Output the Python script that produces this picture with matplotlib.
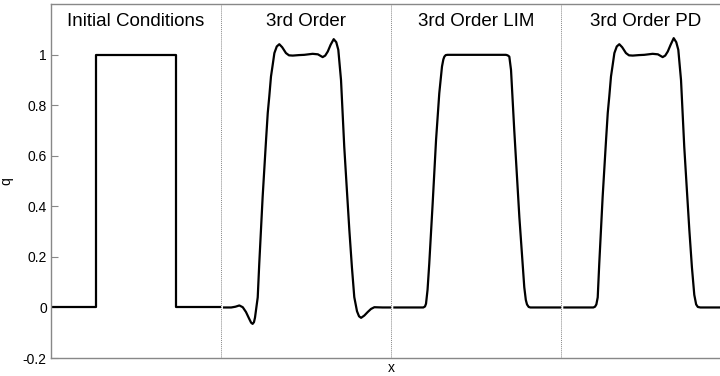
import matplotlib
matplotlib.use('Agg')
import matplotlib.pyplot as plt

plt.rcParams['font.family'] = ['Liberation Sans', 'DejaVu Sans']
plt.rcParams['axes.unicode_minus'] = False

# panel titles
titles = ['Initial Conditions', '3rd Order', '3rd Order LIM', '3rd Order PD']

# x positions inside each panel (0..1) and q values
init_x = [0.014, 0.265, 0.265, 0.735, 0.735, 0.995]
init_q = [0.0, 0.0, 1.0, 1.0, 0.0, 0.0]

o3_x = [0.018, 0.06, 0.085, 0.108, 0.128, 0.147, 0.166, 0.177, 0.186, 0.194,
        0.200, 0.208, 0.216, 0.225, 0.245, 0.265, 0.275, 0.284, 0.294, 0.304,
        0.314, 0.328, 0.343, 0.36, 0.382, 0.40, 0.422, 0.46, 0.49, 0.539,
        0.57, 0.598, 0.613, 0.628, 0.645, 0.663, 0.678, 0.69, 0.706, 0.725,
        0.74, 0.755, 0.77, 0.784, 0.80, 0.812, 0.824, 0.843, 0.863, 0.882,
        0.902, 0.95, 0.995]
o3_q = [0.0, 0.0, 0.003, 0.008, 0.001, -0.018, -0.045, -0.060, -0.065, -0.058,
        -0.040, 0.0, 0.04, 0.173, 0.438, 0.663, 0.77, 0.835, 0.914, 0.96,
        1.007, 1.033, 1.042, 1.03, 1.007, 0.998, 0.997, 0.999, 1.0, 1.004,
        1.002, 0.991, 0.997, 1.013, 1.04, 1.062, 1.05, 1.02, 0.90, 0.636,
        0.47, 0.306, 0.16, 0.041, -0.015, -0.035, -0.041, -0.032, -0.018, -0.006,
        0.001, 0.0, 0.0]

lim_x = [0.02, 0.19, 0.2, 0.206, 0.215, 0.225, 0.245, 0.265, 0.284, 0.3,
         0.308, 0.314, 0.322, 0.333, 0.676, 0.686, 0.696, 0.706, 0.725, 0.755,
         0.784, 0.793, 0.8, 0.81, 0.82, 0.995]
lim_q = [0.0, 0.0, 0.004, 0.015, 0.07, 0.173, 0.411, 0.663, 0.848, 0.954,
         0.982, 0.993, 0.999, 1.0, 1.0, 0.998, 0.993, 0.94, 0.702, 0.358,
         0.08, 0.03, 0.012, 0.002, 0.0, 0.0]

pd_x = [0.02, 0.19, 0.2, 0.208, 0.216, 0.225, 0.245, 0.265, 0.275, 0.284,
        0.294, 0.304, 0.314, 0.328, 0.343, 0.36, 0.382, 0.40, 0.422, 0.46,
        0.49, 0.539, 0.57, 0.598, 0.613, 0.628, 0.645, 0.663, 0.678, 0.69,
        0.706, 0.725, 0.74, 0.755, 0.77, 0.784, 0.795, 0.805, 0.82, 0.995]
pd_q = [0.0, 0.0, 0.003, 0.012, 0.04, 0.173, 0.438, 0.663, 0.77, 0.835,
        0.914, 0.96, 1.007, 1.033, 1.042, 1.03, 1.007, 0.998, 0.997, 0.999,
        1.0, 1.004, 1.002, 0.991, 0.997, 1.013, 1.04, 1.066, 1.05, 1.02,
        0.90, 0.636, 0.47, 0.306, 0.16, 0.05, 0.012, 0.002, 0.0, 0.0]

yticks = [-0.2, 0, 0.2, 0.4, 0.6, 0.8, 1]
ytick_labels = ['-0.2', '0', '0.2', '0.4', '0.6', '0.8', '1']

panels = [(init_x, init_q), (o3_x, o3_q), (lim_x, lim_q), (pd_x, pd_q)]

fig = plt.figure(figsize=(7.2, 3.76), dpi=100)
# the last panel runs past the right edge of the figure, as in the original
ax = fig.add_axes([51 / 720, 18 / 376, 680 / 720, 353.7 / 376])

for i, (xs, qs) in enumerate(panels):
    ax.plot([i + x for x in xs], qs, color='black', lw=1.6, solid_joinstyle='round')
    ax.text(i + 0.5, 1.115, titles[i], ha='center', va='baseline', fontsize=13.5)
    if i > 0:
        ax.axvline(i, color='#888888', lw=0.7, ls=(0, (1, 1)))

ax.set_xlim(0, 4)
ax.set_ylim(-0.2, 1.2)
ax.set_yticks(yticks)
ax.set_yticklabels(ytick_labels)
ax.tick_params(axis='y', direction='in', length=5, color='#888888', labelsize=10, pad=3)
ax.tick_params(axis='x', bottom=False, labelbottom=False)
for side in ['left', 'bottom', 'top', 'right']:
    ax.spines[side].set_color('#888888')
    ax.spines[side].set_linewidth(1.0)

ax.set_xlabel('x', fontsize=10, labelpad=2)
ax.set_ylabel('q', fontsize=10)
ax.yaxis.set_label_coords(-0.055, 0.5)

plt.savefig('out.png', dpi=100)
